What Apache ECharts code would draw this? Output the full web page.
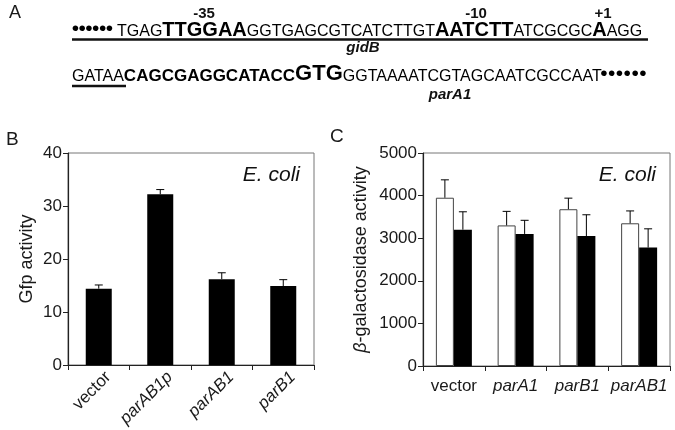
<!DOCTYPE html>
<html>
<head>
<meta charset="utf-8">
<script src="https://cdn.jsdelivr.net/npm/echarts@6/dist/echarts.min.js"></script>
<style>
html,body{margin:0;padding:0;background:#fff;}
#c{width:675px;height:430px;}
</style>
</head>
<body>
<div id="c"></div>
<script>
// Panel B data
const bCategories = ['vector', 'parAB1p', 'parAB1', 'parB1'];
const bValues = [14.4, 32.2, 16.2, 14.9];
const bErrors = [0.7, 0.9, 1.2, 1.2];
const bTicks = {min: 0, max: 40, interval: 10};

// Panel C data
const cCategories = ['vector', 'parA1', 'parB1', 'parAB1'];
const cWhite = [3950, 3300, 3680, 3350];
const cWhiteErr = [420, 330, 260, 290];
const cBlack = [3200, 3100, 3050, 2780];
const cBlackErr = [420, 320, 500, 440];
const cTicks = {min: 0, max: 5000, interval: 1000};

// Panel A sequence text
const seqRow1 = '{r|TGAG}{b|TTGGAA}{r|GGTGAGCGTCATCTTGT}{b|AATCTT}{r|ATCGCGC}{b|A}{r|AGG}';
const seqRow2 = '{r|GATAA}{g|CAGCGAGGCATACC}{k|GTG}{r|GGTAAAATCGTAGCAATCGCCAAT}';
const dots = '{d|•}{d|•}{d|•}{d|•}{d|•}{d|•}';

const FONT = '"Liberation Sans", Arial, sans-serif';
const INK = '#1a1a1a';
const chart = echarts.init(document.getElementById('c'));

function errSeries(xi, yi, values, errs, offset) {
  return {
    type: 'custom', xAxisIndex: xi, yAxisIndex: yi, z: 5,
    data: values.map((v, i) => [i, v, errs[i]]),
    encode: {x: 0, y: 1},
    renderItem: function (params, api) {
      const base = api.coord([api.value(0), api.value(1)]);
      const top = api.coord([api.value(0), api.value(1) + api.value(2)]);
      const x = base[0] + offset;
      return {type: 'group', children: [
        {type: 'line', shape: {x1: x, y1: base[1], x2: x, y2: top[1]}, style: {stroke: '#000', lineWidth: 1}},
        {type: 'line', shape: {x1: x - 4, y1: top[1], x2: x + 4, y2: top[1]}, style: {stroke: '#000', lineWidth: 1}}
      ]};
    }
  };
}

const italicFmt = v => v === 'vector' ? v : '{i|' + v + '}';
const axisTxt = {color: INK, fontFamily: FONT};
const d = {fontSize: 21, fontFamily: FONT, color: '#111', verticalAlign: 'bottom', width: 6.8, align: 'center'};

const option = {
  animation: false,
  textStyle: {fontFamily: FONT},
  grid: [
    {left: 68, right: 361, top: 153, bottom: 65, show: true, borderColor: '#777', borderWidth: 1},
    {left: 423, right: 5, top: 153, bottom: 64, show: true, borderColor: '#777', borderWidth: 1}
  ],
  xAxis: [
    {type: 'category', gridIndex: 0, data: bCategories,
     axisLine: {lineStyle: {color: '#222', width: 1.2}},
     axisTick: {show: true, length: 5, lineStyle: {color: '#222'}},
     axisLabel: Object.assign({}, axisTxt, {fontSize: 17, rotate: 45, interval: 0, margin: 0,
        verticalAlign: 'top', padding: [5, 0, 0, 0], formatter: italicFmt,
        rich: {i: {fontStyle: 'italic', fontSize: 17, color: INK, fontFamily: FONT}}})},
    {type: 'category', gridIndex: 1, data: cCategories,
     axisLine: {lineStyle: {color: '#222', width: 1.2}},
     axisTick: {show: true, length: 5, lineStyle: {color: '#222'}},
     axisLabel: Object.assign({}, axisTxt, {fontSize: 17, interval: 0, margin: 12, formatter: italicFmt,
        rich: {i: {fontStyle: 'italic', fontSize: 17, color: INK, fontFamily: FONT}}})}
  ],
  yAxis: [
    {type: 'value', gridIndex: 0, min: bTicks.min, max: bTicks.max, interval: bTicks.interval,
     name: 'Gfp activity', nameLocation: 'middle', nameGap: 32,
     nameTextStyle: {color: INK, fontSize: 18, fontFamily: FONT},
     splitLine: {show: false},
     axisLine: {show: true, lineStyle: {color: '#222', width: 1.2}},
     axisTick: {show: true, length: 5, lineStyle: {color: '#222'}},
     axisLabel: Object.assign({}, axisTxt, {fontSize: 17, margin: 6, formatter: v => String(v)})},
    {type: 'value', gridIndex: 1, min: cTicks.min, max: cTicks.max, interval: cTicks.interval,
     name: '{b|β}-galactosidase activity', nameLocation: 'middle', nameGap: 53,
     nameTextStyle: {color: INK, fontSize: 18, fontFamily: FONT,
       rich: {b: {fontStyle: 'italic', fontSize: 18, color: INK, fontFamily: FONT}}},
     splitLine: {show: false},
     axisLine: {show: true, lineStyle: {color: '#222', width: 1.2}},
     axisTick: {show: true, length: 5, lineStyle: {color: '#222'}},
     axisLabel: Object.assign({}, axisTxt, {fontSize: 17, margin: 6, formatter: v => String(v)})}
  ],
  series: [
    {type: 'bar', xAxisIndex: 0, yAxisIndex: 0, data: bValues, barWidth: 26,
     itemStyle: {color: '#000'}},
    errSeries(0, 0, bValues, bErrors, 0),
    {type: 'bar', xAxisIndex: 1, yAxisIndex: 1, data: cWhite, barWidth: 18, barGap: '0%',
     itemStyle: {color: '#fff', borderColor: '#444', borderWidth: 1}},
    {type: 'bar', xAxisIndex: 1, yAxisIndex: 1, data: cBlack, barWidth: 18, barGap: '0%',
     itemStyle: {color: '#000'}},
    errSeries(1, 1, cWhite, cWhiteErr, -9),
    errSeries(1, 1, cBlack, cBlackErr, 9)
  ],
  graphic: [
    // panel letters
    {type: 'text', x: 9, y: 13, style: {text: 'A', font: '18px ' + FONT, fill: INK, verticalAlign: 'middle'}},
    {type: 'text', x: 6, y: 140, style: {text: 'B', font: '19px ' + FONT, fill: INK, verticalAlign: 'middle'}},
    {type: 'text', x: 330, y: 137, style: {text: 'C', font: '19px ' + FONT, fill: INK, verticalAlign: 'middle'}},
    // E. coli
    {type: 'text', x: 300, y: 175, style: {text: 'E. coli', font: 'italic 21px ' + FONT, fill: '#111', align: 'right', verticalAlign: 'middle'}},
    {type: 'text', x: 656, y: 175, style: {text: 'E. coli', font: 'italic 21px ' + FONT, fill: '#111', align: 'right', verticalAlign: 'middle'}},
    // sequence row 1
    {type: 'text', x: 72, y: 40, style: {text: dots, verticalAlign: 'bottom', rich: {d: d}}},
    {type: 'text', x: 117, y: 40, style: {
      text: seqRow1, verticalAlign: 'bottom',
      rich: {
        r: {fontSize: 16, fontFamily: FONT, color: '#111', verticalAlign: 'bottom'},
        b: {fontSize: 20, fontWeight: 'bold', fontFamily: FONT, color: '#111', verticalAlign: 'bottom'}
      }}},
    {type: 'line', shape: {x1: 72, y1: 39.5, x2: 648, y2: 39.5}, style: {stroke: '#111', lineWidth: 2.5}},
    {type: 'text', x: 204, y: 14, style: {text: '-35', font: 'bold 15px ' + FONT, fill: '#111', align: 'center', verticalAlign: 'middle'}},
    {type: 'text', x: 476, y: 14, style: {text: '-10', font: 'bold 15px ' + FONT, fill: '#111', align: 'center', verticalAlign: 'middle'}},
    {type: 'text', x: 603, y: 14, style: {text: '+1', font: 'bold 15px ' + FONT, fill: '#111', align: 'center', verticalAlign: 'middle'}},
    {type: 'text', x: 363, y: 48, style: {text: 'gidB', font: 'italic bold 15px ' + FONT, fill: '#111', align: 'center', verticalAlign: 'middle'}},
    // sequence row 2
    {type: 'text', x: 72, y: 85, style: {
      text: seqRow2, verticalAlign: 'bottom',
      rich: {
        r: {fontSize: 16, fontFamily: FONT, color: '#111', verticalAlign: 'bottom'},
        g: {fontSize: 17, fontWeight: 'bold', fontFamily: FONT, color: '#505050', verticalAlign: 'bottom'},
        k: {fontSize: 22, fontWeight: 'bold', fontFamily: FONT, color: '#111', verticalAlign: 'bottom'}
      }}},
    {type: 'text', x: 600, y: 85, style: {text: dots, verticalAlign: 'bottom', rich: {d: Object.assign({}, d, {width: 7.8})}}},
    {type: 'line', shape: {x1: 72, y1: 86, x2: 126, y2: 86}, style: {stroke: '#111', lineWidth: 2.5}},
    {type: 'text', x: 450, y: 95, style: {text: 'parA1', font: 'italic bold 15px ' + FONT, fill: '#111', align: 'center', verticalAlign: 'middle'}}
  ]
};
chart.setOption(option);
</script>
</body>
</html>
